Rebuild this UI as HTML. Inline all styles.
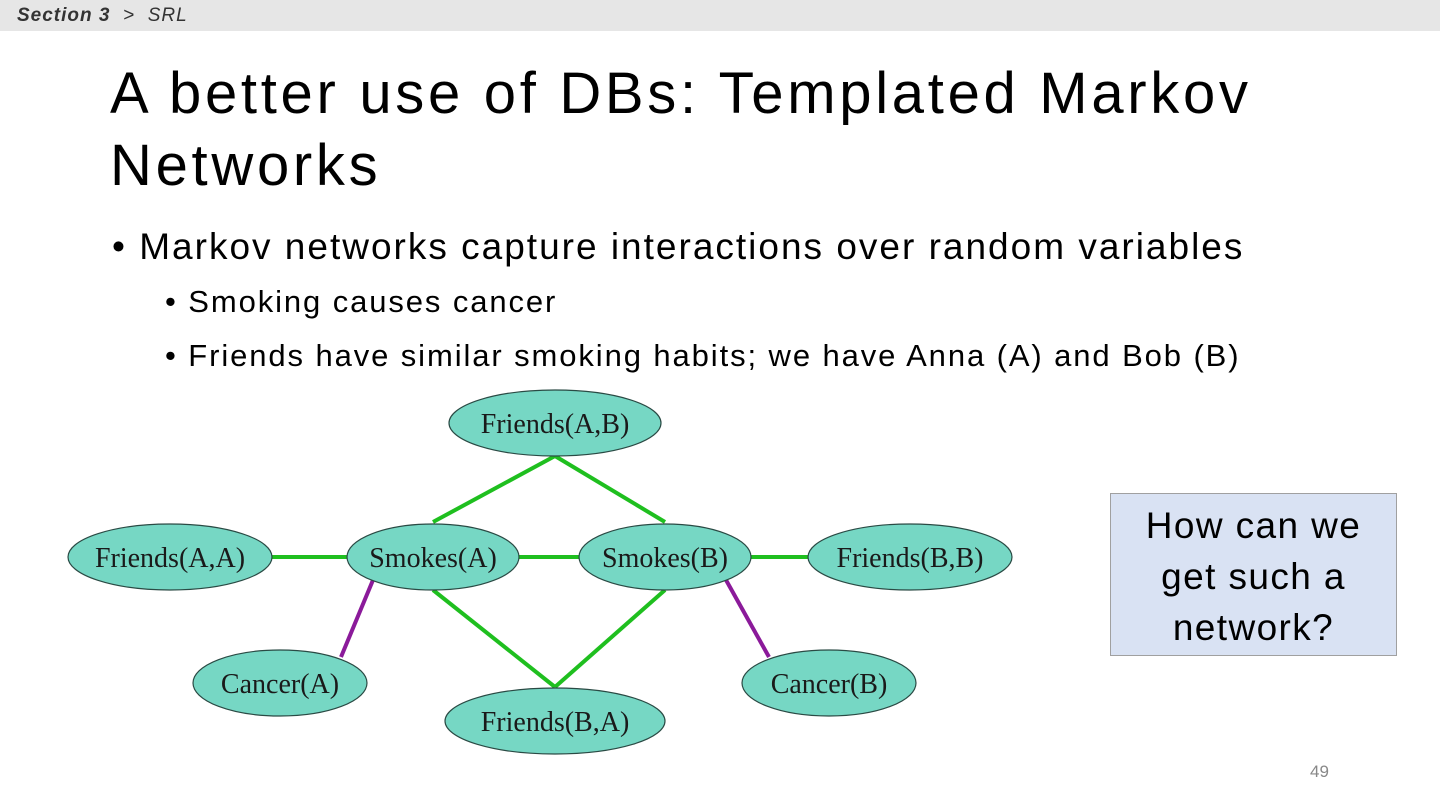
<!DOCTYPE html>
<html><head><meta charset="utf-8"><style>
body{margin:0;width:1440px;height:810px;background:#fff;position:relative;overflow:hidden;font-family:"Liberation Sans",sans-serif;}
.bar{position:absolute;left:0;top:0;width:1440px;height:31px;background:#e6e6e6;}
.bar span{position:absolute;left:17px;top:5px;font-size:19px;font-style:italic;color:#333;letter-spacing:1px;}
.t{position:absolute;left:110px;top:58px;font-size:58px;line-height:72px;color:#000;letter-spacing:3.7px;}
.b{position:absolute;white-space:nowrap;color:#000;}
.box{position:absolute;left:1110px;top:493px;width:287px;height:163px;background:#d9e2f3;border:1px solid #a0a0a0;text-align:center;font-size:37px;line-height:51px;padding-top:6px;box-sizing:border-box;letter-spacing:1.4px;}
.pn{position:absolute;left:1310px;top:762px;font-size:17px;color:#888;}
</style></head><body>
<div class="bar"><span><b>Section 3</b> &nbsp;&gt;&nbsp; SRL</span></div>
<div class="t">A better use of DBs: Templated Markov<br>Networks</div>
<div class="b" style="left:112px;top:226px;font-size:37px;letter-spacing:2px;">•&nbsp;Markov networks capture interactions over random variables</div>
<div class="b" style="left:165px;top:284px;font-size:31px;letter-spacing:1.9px;">•&nbsp;Smoking causes cancer</div>
<div class="b" style="left:165px;top:338px;font-size:31px;letter-spacing:1.9px;">•&nbsp;Friends have similar smoking habits; we have Anna (A) and Bob (B)</div>
<svg style="position:absolute;left:0;top:0" width="1440" height="810">
<g stroke="#1fbf1f" stroke-width="4">
<line x1="555" y1="456" x2="433" y2="522"/><line x1="555" y1="456" x2="665" y2="522"/>
<line x1="433" y1="590" x2="555" y2="687"/><line x1="665" y1="590" x2="555" y2="687"/>
<line x1="272" y1="557" x2="348" y2="557"/><line x1="519" y1="557" x2="580" y2="557"/><line x1="751" y1="557" x2="809" y2="557"/>
</g>
<g stroke="#8b1a9a" stroke-width="4">
<line x1="373" y1="580" x2="341" y2="657"/><line x1="726" y1="580" x2="769" y2="657"/>
</g>
<g fill="#76d7c4" stroke="#2a4a44" stroke-width="1.2">
<ellipse cx="555" cy="423" rx="106" ry="33"/>
<ellipse cx="170" cy="557" rx="102" ry="33"/>
<ellipse cx="433" cy="557" rx="86" ry="33"/>
<ellipse cx="665" cy="557" rx="86" ry="33"/>
<ellipse cx="910" cy="557" rx="102" ry="33"/>
<ellipse cx="280" cy="683" rx="87" ry="33"/>
<ellipse cx="829" cy="683" rx="87" ry="33"/>
<ellipse cx="555" cy="721" rx="110" ry="33"/>
</g>
<g font-family="Liberation Serif,serif" font-size="28" fill="#1a1a1a" text-anchor="middle">
<text x="555" y="433">Friends(A,B)</text>
<text x="170" y="567">Friends(A,A)</text>
<text x="433" y="567">Smokes(A)</text>
<text x="665" y="567">Smokes(B)</text>
<text x="910" y="567">Friends(B,B)</text>
<text x="280" y="693">Cancer(A)</text>
<text x="829" y="693">Cancer(B)</text>
<text x="555" y="731">Friends(B,A)</text>
</g>
</svg>
<div class="box">How can we<br>get such a<br>network?</div>
<div class="pn">49</div>
</body></html>
